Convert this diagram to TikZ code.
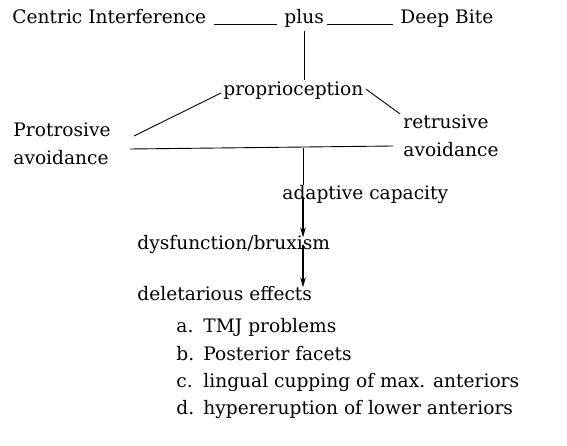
\documentclass[tikz,border=0pt]{standalone}
\usepackage{fontspec}
\setmainfont{DejaVu Serif}
\usetikzlibrary{arrows.meta}
\tikzset{
	lbl/.style={anchor=base west, inner sep=0pt, font=\fontsize{18.6}{28}\selectfont},
	thk/.style={line width=1.6pt, -{Stealth[length=10pt,width=5.5pt]}}
}
\begin{document}
\begin{tikzpicture}[x=1pt,y=-1pt,line width=0.9pt]
		\useasboundingbox (0,0) rectangle (567,446);
		\def\lx{137}
		\node[lbl] (centric) at (12,24) {Centric Interference};
		\node[lbl] (plus) at (284,24) {plus};
		\node[lbl] (deep) at (400,24) {Deep Bite};
		\node[lbl] (proprio) at (223,96) {proprioception};
		\node[lbl, align=left] (protr) at (13,165) {Protrosive\\avoidance};
		\node[lbl, align=left] (retr) at (403,157) {retrusive\\avoidance};
		\node[lbl] (adapt) at (282,200) {adaptive capacity};
		\node[lbl] (dys) at (\lx,250) {dysfunction/bruxism};
		\node[lbl] (delet) at (\lx,300) {deletarious effects};
		\node[lbl] (ita) at (176,332) {\makebox[27pt][l]{a.}TMJ problems};
		\node[lbl] (itb) at (176,360) {\makebox[27pt][l]{b.}Posterior facets};
		\node[lbl] (itc) at (176,387) {\makebox[27pt][l]{c.}lingual cupping of max. anteriors};
		\node[lbl] (itd) at (176,414) {\makebox[27pt][l]{d.}hypereruption of lower anteriors};
		
		\coordinate (barl) at (130,149);
		\coordinate (barr) at (393,146);
		\coordinate (barm) at (303,148);
		\coordinate (lend) at (134,136);
		
		\draw[shorten <=7pt, shorten >=7pt] (centric.base east) -- (plus.base west);
		\draw[shorten <=3pt, shorten >=7pt] (plus.base east) -- (deep.base west);
		\draw[shorten <=3pt, shorten >=2pt] (plus.south) -- (plus.south |- proprio.north);
		\draw ([shift={(-2,-3)}]proprio.base west) -- (lend);
		\draw ([shift={(2,-7)}]proprio.base east) -- ([shift={(-3,-1)}]retr.north west);
		\draw (barl) -- (barr);
		\draw (barm) -- (barm |- adapt.north);
		\draw[thk] ([yshift=3pt]barm |- adapt.base) -- ([yshift=-2pt]barm |- dys.north);
		\draw[thk] ([yshift=5pt]barm |- dys.base) -- ([yshift=-2pt]barm |- delet.north);
\end{tikzpicture}
\end{document}
